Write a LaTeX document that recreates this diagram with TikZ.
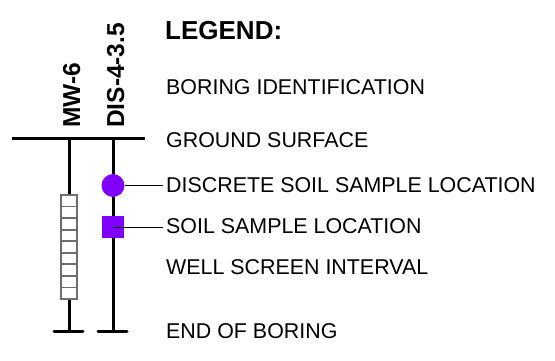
\documentclass[tikz,border=0pt]{standalone}
\usepackage{fontspec}
\setmainfont{Liberation Sans}
\definecolor{sampleviolet}{RGB}{127,0,255}
\definecolor{screengray}{RGB}{110,110,110}
\begin{document}
\begin{tikzpicture}[x=1pt,y=-1pt,
  boring/.style={line width=3pt},
  endbar/.style={line width=3pt,line cap=round},
  leader/.style={line width=1pt},
  legtext/.style={anchor=base west,inner sep=0pt,font=\fontsize{21.4}{25}\selectfont},
  idlabel/.style={rotate=90,anchor=base west,inner sep=0pt,font=\bfseries\fontsize{24.5}{28}\selectfont},
  screenbox/.style={draw=screengray,line width=1.8pt,fill=white},
  circmark/.style={circle,fill=sampleviolet,inner sep=0pt,minimum size=23pt},
  sqmark/.style={rectangle,fill=sampleviolet,inner sep=0pt,minimum size=22pt}]
\useasboundingbox (0,0) rectangle (555,361);

% ground surface
\coordinate (gl) at (12,139);
\coordinate (gr) at (145,139);
\draw[boring] (gl) -- (gr);

% borings
\coordinate (mwtop) at (69,139);
\coordinate (mwbot) at (69,331);
\coordinate (distop) at (113,139);
\coordinate (disbot) at (113,331);
\draw[boring] (mwtop) -- (mwbot);
\draw[boring] (distop) -- (disbot);
\coordinate (mwbl) at (54,331);
\coordinate (mwbr) at (83,331);
\coordinate (disbl) at (98,331);
\coordinate (disbr) at (127,331);
\draw[endbar] (mwbl) -- (mwbr);
\draw[endbar] (disbl) -- (disbr);

% well screen
\draw[screenbox] (61,195) rectangle (77,299);
\foreach \i in {1,...,8}{
  \draw[draw=screengray,line width=1.8pt] (61,{195+\i*104/9}) -- (77,{195+\i*104/9});
}

% boring ids
\node[idlabel] (mwid) at (80,128) {MW-6};
\node[idlabel] (disid) at (124,128) {DIS-4-3.5};

% legend texts
\node[anchor=base west,inner sep=0pt,font=\bfseries\fontsize{26}{30}\selectfont] (legend) at (165,40) {LEGEND:};
\node[legtext] (bid) at (166,95) {BORING IDENTIFICATION};
\node[legtext] (gs) at (166,147) {GROUND SURFACE};
\node[legtext] (disc) at (166,193) {DISCRETE SOIL SAMPLE LOCATION};
\node[legtext] (ssl) at (166,233) {SOIL SAMPLE LOCATION};
\node[legtext] (wsi) at (166,274) {WELL SCREEN INTERVAL};
\node[legtext] (eob) at (166,338) {END OF BORING};

% sample markers
\node[circmark] (circ) at (113,185.5) {};
\node[sqmark] (sq) at (113,227) {};
\coordinate (discend) at (163,185.5);
\coordinate (sslend) at (163,227);
\draw[leader] (circ.east) -- (discend);
\draw[leader] (sq.center) -- (sslend);
\end{tikzpicture}
\end{document}
